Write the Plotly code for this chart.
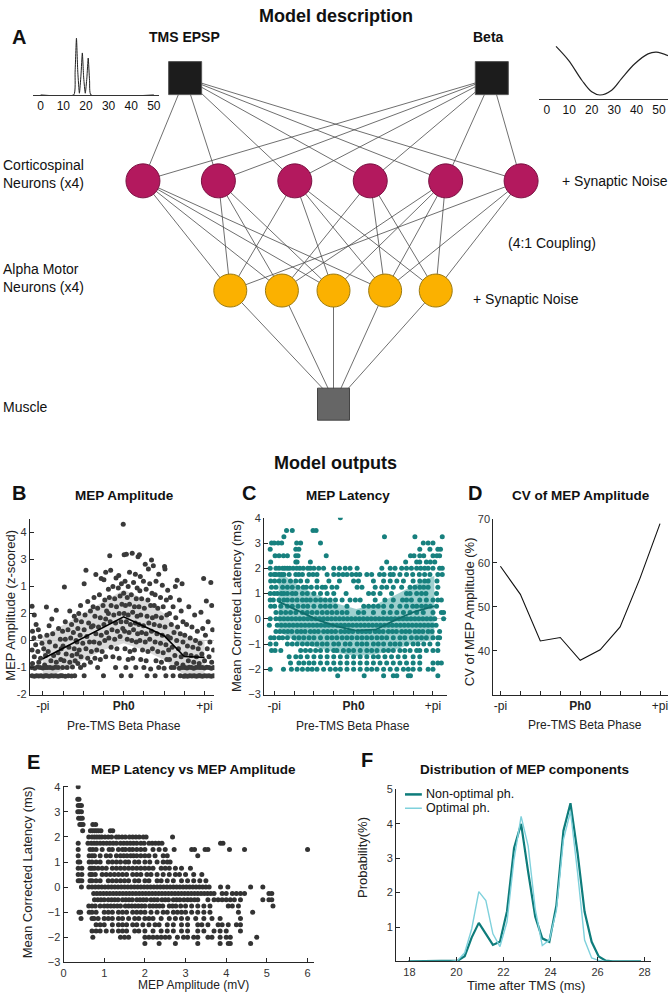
import plotly.graph_objects as go

# ======================= DATA =======================
# Inset waveforms (panel A)
EPSP_T = [0, 14.6, 15.2, 15.8, 16.4, 17.1, 17.8, 18.4, 19.0, 19.7, 20.4, 21.0, 21.6, 22.2, 50]
EPSP_V = [0, 0, 0.4, 1.0, 0.4, 0.03, 0.35, 0.74, 0.3, 0.03, 0.3, 0.65, 0.25, 0, 0]
BETA_T = [4.1, 9.7, 15.6, 20, 23.7, 28.9, 33.3, 39.2, 45.1, 48.8, 54]
BETA_V = [1.01, 0.43, -0.39, -0.87, -1.0, -0.8, -0.32, 0.29, 0.7, 0.77, 0.63]
INSET_TICKS = [0, 10, 20, 30, 40, 50]

PHASE_TICKS = [-180, 0, 180]
PHASE_LABELS = ["-pi", "<b>Ph0</b>", "+pi"]

# Panel B : MEP amplitude (z-scored) vs phase (deg)
B_PTS = [
 (-204,1.27),(-199,0.95),(-195,0.6),(-203,0.35),(-190,0.4),(-200,0.1),(-186,0.15),(-196,-0.15),(-182,-0.1),(-204,-0.35),
 (-191,-0.4),(-178,-0.3),(-199,-0.6),(-185,-0.65),(-174,-0.55),(-203,-0.85),(-189,-0.8),(-176,-0.9),(-205,-1.0),(-198,-1.02),
 (-192,-0.98),(-186,-1.0),(-180,-1.01),(-174,-1.0),(-204,-1.3),(-199,-1.32),(-194,-1.3),(-189,-1.31),(-184,-1.3),(-179,-1.32),
 (-175,-1.3),(-172,1.24),
 (-160,0.8),(-150,1.12),(-166,0.55),(-145,0.45),(-171,0.2),(-158,0.25),(-141,0.05),(-165,-0.05),(-152,-0.2),(-139,-0.3),
 (-168,-0.4),(-156,-0.55),(-146,-0.45),(-162,-0.75),(-150,-0.8),(-140,-0.7),(-170,-1.0),(-164,-1.0),(-158,-1.01),(-152,-0.99),
 (-146,-1.0),(-171,-1.3),(-166,-1.32),(-161,-1.3),(-156,-1.31),(-151,-1.3),(-146,-1.32),(-141,-1.3),
 (-132,1.98),(-120,1.1),(-110,0.9),(-130,0.7),(-116,0.6),(-106,0.75),(-136,0.35),(-124,0.4),(-112,0.3),(-130,0.05),
 (-118,0.1),(-106,0.0),(-135,-0.2),(-122,-0.25),(-110,-0.3),(-128,-0.5),(-115,-0.55),(-104,-0.5),(-133,-0.75),(-120,-0.8),
 (-108,-0.75),(-136,-1.0),(-126,-1.0),(-114,-0.98),(-137,-1.3),(-130,-1.32),(-123,-1.3),(-116,-1.31),(-109,-1.3),
 (-84,2.6),(-88,2.1),(-96,1.3),(-80,1.45),(-100,1.0),(-86,0.95),(-74,1.1),(-94,0.7),(-78,0.65),(-102,0.45),
 (-88,0.4),(-72,0.5),(-97,0.2),(-82,0.15),(-104,-0.05),(-91,-0.1),(-76,-0.05),(-99,-0.35),(-84,-0.3),(-72,-0.4),
 (-95,-0.6),(-80,-0.65),(-102,-0.85),(-88,-0.9),(-74,-0.8),(-96,-1.0),(-88,-1.3),
 (-44,2.25),(-40,2.53),(-62,2.45),(-50,2.3),(-66,1.6),(-54,1.7),(-42,1.5),(-68,1.25),(-58,1.2),(-46,1.3),
 (-38,1.1),(-64,0.9),(-52,0.85),(-40,0.8),(-68,0.55),(-56,0.5),(-44,0.6),(-62,0.25),(-50,0.2),(-38,0.3),
 (-66,-0.05),(-54,-0.1),(-42,0.0),(-60,-0.35),(-48,-0.4),(-64,-0.65),(-52,-0.7),(-40,-0.6),(-58,-1.0),(-45,-1.3),
 (-31,3.14),(-17,2.32),(-11,2.41),(-29,2.6),(-34,1.9),(-24,2.0),(-12,1.95),(-5,2.1),(-32,1.6),(-20,1.55),
 (-8,1.65),(-28,1.3),(-16,1.25),(-4,1.35),(-34,1.0),(-22,0.95),(-10,1.0),(-30,0.7),(-18,0.65),(-6,0.7),
 (-26,0.4),(-14,0.35),(-2,0.45),(-33,0.1),(-20,0.05),(-8,0.15),(-28,-0.25),(-15,-0.3),(-24,-0.6),(-10,-0.65),
 (-18,-1.0),(-5,-1.3),
 (-1,4.31),(1,3.18),(6,3.2),(19,3.23),(13,2.53),(26,2.46),(3,2.2),(10,2.0),(22,2.15),(30,1.95),
 (0,1.75),(8,1.6),(17,1.7),(28,1.55),(4,1.3),(13,1.35),(24,1.25),(1,1.0),(10,0.95),(20,1.05),
 (30,0.9),(6,0.7),(15,0.6),(26,0.65),(2,0.35),(12,0.3),(22,0.4),(31,0.25),(8,0.05),(18,0.0),
 (28,-0.05),(3,-0.3),(14,-0.4),(24,-0.35),(10,-0.7),(20,-0.65),(5,-1.0),(27,-1.0),(16,-1.3),
 (35,3.18),(32,3.1),(62,2.98),(48,2.83),(55,2.65),(66,2.77),(37,2.37),(44,2.2),(58,2.1),(36,1.85),
 (50,1.9),(63,1.75),(40,1.55),(54,1.5),(34,1.25),(46,1.2),(60,1.3),(38,0.95),(52,0.9),(64,0.85),
 (34,0.6),(44,0.55),(56,0.65),(40,0.3),(50,0.25),(62,0.35),(36,0.0),(48,-0.05),(58,0.05),(42,-0.35),
 (54,-0.4),(64,-0.3),(38,-0.7),(50,-0.75),(45,-1.0),(60,-1.05),(52,-1.3),
 (78,2.46),(91,2.74),(92,2.65),(72,2.2),(86,2.05),(98,1.86),(70,1.7),(82,1.6),(95,1.5),(68,1.3),
 (76,1.2),(88,1.25),(72,0.9),(84,0.85),(96,0.95),(68,0.6),(80,0.55),(92,0.5),(74,0.25),(86,0.2),
 (98,0.15),(70,-0.05),(82,-0.1),(94,-0.15),(76,-0.4),(88,-0.45),(100,-0.35),(72,-0.75),(84,-0.8),(96,-0.7),
 (78,-1.0),(90,-1.02),(70,-1.3),(94,-1.3),
 (119,2.23),(130,2.1),(115,2.0),(104,1.6),(124,1.5),(110,1.25),(128,1.1),(102,1.0),(116,0.85),(132,0.7),
 (106,0.6),(120,0.5),(112,0.3),(126,0.25),(104,0.1),(118,0.0),(132,-0.05),(108,-0.25),(122,-0.3),(114,-0.55),
 (128,-0.6),(102,-0.7),(118,-0.85),(132,-0.9),(106,-1.0),(112,-1.0),(124,-1.02),(130,-1.0),(110,-1.3),(126,-1.3),
 (134,-1.32),
 (145,1.25),(158,0.95),(140,0.6),(152,0.5),(164,0.35),(136,0.2),(148,0.1),(160,0.0),(142,-0.2),(154,-0.25),
 (166,-0.3),(138,-0.5),(150,-0.55),(162,-0.6),(144,-0.75),(156,-0.8),(168,-0.85),(136,-1.0),(141,-1.01),(146,-0.99),
 (151,-1.0),(156,-1.02),(161,-1.0),(166,-0.99),(137,-1.3),(142,-1.32),(147,-1.3),(152,-1.31),(157,-1.3),(162,-1.32),
 (167,-1.3),
 (178,2.3),(194,2.15),(184,1.47),(172,1.05),(196,1.3),(188,0.7),(176,0.45),(198,0.4),(182,0.2),(192,-0.05),
 (170,-0.1),(186,-0.3),(200,-0.35),(174,-0.5),(190,-0.6),(180,-0.75),(196,-0.8),(170,-1.0),(175,-1.0),(180,-1.01),
 (185,-0.99),(190,-1.0),(195,-1.02),(200,-1.0),(170,-1.3),(175,-1.32),(180,-1.3),(185,-1.31),(190,-1.3),(195,-1.32),
 (200,-1.3),
]
B_BINS = [-180, -135, -90, -45, 0, 45, 90, 135, 180]
B_MEAN = [-0.67, -0.29, 0.09, 0.49, 0.88, 0.53, 0.18, -0.59, -0.62]
B_UPPER = [0.14, 0.57, 1.0, 1.43, 1.88, 1.55, 1.0, 0.14, 0.02]
B_LOWER = [-1.45, -1.08, -0.72, -0.35, -0.1, -0.35, -0.72, -1.27, -1.33]
B_YTICKS = [-2, -1, 0, 1, 2, 3, 4]
B_YLABELS = ["-2", "-1", "0", "2", "1", "3", "4"]

# Panel C : corrected latency (ms) rows -> phases (deg)
C_ROWS = {
 4.0: [-30],
 3.5: [-152, -139, -92, -85],
 3.25: [-158, 70, 139, 201],
 3.0: [-186, -180, -171, -163, -129, -120, -75, 158, 169, 180],
 2.75: [-189, -131, -124, 150, 173, 191, 197],
 2.5: [-178, -169, -159, -150, -131, -126, -62, 129, 137, 150, 159, 180, 189, 195],
 2.25: [-188, -131, -128, -98, 75, 118, 143, 150, 165, 174, 184],
 2.0: [-189, -176, -169, -161, -156, -150, -145, -137, -129, -122, -114, -104, -98, -90, -79, -68, -45, -32, -19, -8,
       8, 64, 83, 94, 109, 120, 131, 143, 152, 161, 169, 180, 195, 201],
 1.75: [-188, -180, -176, -169, -163, -158, -146, -131, -124, -116, -101, -92, -83, -60, -45, -34, -24, -15, -4, 6,
        14, 30, 41, 59, 69, 83, 90, 105, 120, 134, 149, 161, 173, 191, 201],
 1.5: [-188, -179, -169, -158, -143, -131, -120, -105, -83, -56, -32, 0, 11, 45, 68, 83, 98, 113, 135, 150, 161, 169, 189],
 1.25: [-186, -176, -161, -150, -139, -126, -114, -107, -96, -83, -71, -64, -49, -38, 8, 19, 49, 64, 75, 90, 109, 128,
        139, 150, 159, 169, 191],
 1.0: [-189, -180, -173, -164, -158, -150, -139, -131, -116, -105, -90, -75, -60, -45, -17, 34, 45, 60, 86, 120, 128,
       143, 154, 164, 188],
 0.75: [-189, -182, -169, -158, -150, -139, -128, -116, -107, -98, -86, -75, -64, -53, -41, -26, -8, 4, 15, 49, 71, 90,
        111, 120, 131, 150, 165, 180, 191, 199],
 0.5: [-188, -179, -165, -150, -139, -126, -114, -104, -90, -75, -64, -53, -41, -15, 23, 34, 45, 56, 68, 86, 105, 120,
       134, 143, 154, 164, 174, 188],
 0.25: [-176, -165, -154, -143, -131, -116, -105, -94, -83, -71, -60, -49, -38, -26, -15, 11, 23, 45, 68, 83, 98, 113,
        128, 143, 158, 180, 199, 204],
 0.0: [-189, -176, -167, -158, -149, -140, -131, -122, -113, -104, -95, -86, -77, -68, -59, -50, -41, -32, -23, -14, -5,
       4, 13, 22, 31, 40, 49, 58, 67, 76, 85, 94, 103, 112, 121, 130, 139, 148, 157, 166, 175, 184, 204],
 -0.25: [-191, -173, -164, -155, -146, -137, -128, -119, -110, -101, -92, -83, -74, -65, -56, -47, -38, -29, -20, -11,
         -2, 7, 16, 25, 34, 43, 52, 61, 70, 79, 88, 97, 106, 115, 124, 133, 142, 151, 160, 169, 178, 187],
 -0.5: [-176, -167, -158, -149, -140, -128, -119, -110, -98, -89, -80, -68, -59, -50, -41, -29, -20, -11, -2, 10, 19, 28,
        37, 49, 58, 67, 79, 88, 97, 109, 118, 127, 139, 148, 157, 169, 178, 195],
 -0.75: [-188, -180, -169, -161, -150, -135, -124, -113, -101, -90, -75, -60, -49, -38, -26, -15, -4, 8, 19, 30, 41, 53,
         64, 75, 90, 105, 116, 131, 143, 154, 165, 180, 191, 195],
 -1.0: [-189, -176, -150, -139, -128, -116, -105, -94, -83, -71, -60, -45, -34, -19, -8, 8, 19, 30, 45, 56, 68, 83, 94,
        105, 120, 135, 146, 159, 173, 191],
 -1.25: [-186, -178, -165, -120, -109, -98, -86, -75, -60, -45, -38, -23, -11, 0, 15, 30, 41, 53, 68, 79, 90, 105, 116,
         128, 143, 150, 165, 180, 191],
 -1.5: [-146, -131, -120, -105, -90, -75, -60, -45, -30, -15, 0, 15, 30, 45, 56, 71, 86, 101, 116, 135, 150],
 -1.75: [-143, -124, -113, -101, -90, -75, -60, -45, -30, -15, 0, 15, 30, 45, 60, 75, 90, 105, 120, 135, 150, 180, 191, 199],
 -2.0: [-189, -159, -141, -128, -116, -104, -94, -83, -68, -53, -41, -30, -15, 0, 15, 30, 41, 53, 68, 83, 98, 113, 124,
        135, 150, 169, 180],
 -2.25: [-36, 24, 68, 90, 98, 124, 129, 191],
}
C_BINS = [-170, -126, -82, -38, 6, 50, 95, 139, 183]
C_MEAN = [0.68, 0.31, -0.04, -0.3, -0.47, -0.43, -0.04, 0.29, 0.5]
C_UPPER = [1.87, 1.32, 0.94, 0.61, 0.39, 0.57, 0.94, 1.35, 1.71]
C_LOWER = [-0.49, -0.95, -1.14, -1.34, -1.47, -1.4, -1.21, -0.95, -0.84]

# Panel D : CV of MEP amplitude (%)
D_PHASE = [-180, -135, -90, -45, 0, 45, 90, 135, 180]
D_CV = [59.2, 52.8, 42.2, 43.0, 37.8, 40.2, 45.4, 56.5, 68.9]

# Panel E : latency rows -> MEP amplitude (mV)
E_ROWS = {
 4.0: [0.36],
 3.5: [0.35, 0.38],
 3.25: [0.36, 0.4, 0.44],
 3.0: [0.35, 0.39, 0.44],
 2.75: [0.37, 0.42, 0.46],
 2.5: [0.4, 0.44, 0.48, 0.72, 0.79],
 2.25: [0.47, 0.66, 0.71, 0.76, 0.81, 0.86, 0.92, 1.15, 1.21],
 2.0: [0.62, 0.7, 0.76, 0.82, 0.88, 0.94, 1.02, 1.1, 1.18, 1.3, 1.36, 1.44, 1.52, 1.62, 1.7, 1.78, 1.86, 1.96, 2.03, 2.68],
 1.75: [0.36, 0.6, 0.68, 0.75, 0.82, 0.9, 0.98, 1.06, 1.14, 1.22, 1.3, 1.4, 1.48, 1.56, 1.64, 1.72, 1.8, 1.9, 1.98,
        2.1, 2.18, 2.26, 2.34, 2.42, 3.86, 3.92],
 1.5: [0.36, 0.65, 0.72, 0.8, 0.95, 1.12, 1.2, 1.35, 1.45, 1.52, 1.62, 1.7, 1.8, 1.9, 2.0, 2.2, 2.35, 2.5, 2.72, 3.15,
       3.22, 3.48, 3.55, 4.08, 4.45, 6.0],
 1.25: [0.36, 0.63, 0.7, 0.76, 0.9, 1.05, 1.15, 1.3, 1.4, 1.48, 1.56, 1.65, 1.72, 1.8, 1.9, 2.0, 2.1, 2.25, 2.45, 2.55, 3.3],
 1.0: [0.36, 0.4, 0.63, 0.7, 0.8, 0.9, 1.1, 1.2, 1.3, 1.4, 1.52, 1.6, 1.75, 1.85, 2.0, 2.12, 2.3, 2.45, 2.55, 2.62],
 0.75: [0.36, 0.45, 0.65, 0.7, 0.76, 0.85, 0.95, 1.05, 1.2, 1.3, 1.4, 1.5, 1.6, 1.7, 1.8, 1.9, 2.0, 2.1, 2.2, 2.4, 2.5,
        2.6, 2.75, 2.9, 3.12],
 0.5: [0.36, 0.45, 0.65, 0.7, 0.78, 0.95, 1.05, 1.15, 1.25, 1.35, 1.45, 1.55, 1.7, 1.8, 1.9, 2.05, 2.15, 2.3, 2.45, 2.6,
       2.75, 2.85, 3.0, 3.2, 3.4],
 0.25: [0.36, 0.4, 0.45, 0.65, 0.7, 0.8, 0.9, 1.1, 1.2, 1.3, 1.4, 1.5, 1.6, 1.75, 1.85, 2.0, 2.1, 2.3, 2.4, 2.55, 2.7,
        2.9, 3.05, 3.2, 3.35, 3.5],
 0.0: [0.44, 0.62, 0.7, 0.78, 0.86, 0.94, 1.02, 1.1, 1.18, 1.26, 1.34, 1.42, 1.5, 1.58, 1.66, 1.74, 1.82, 1.9, 1.98,
       2.06, 2.14, 2.22, 2.3, 2.38, 2.46, 2.54, 2.62, 2.7, 2.78, 2.86, 2.94, 3.02, 3.1, 3.18, 3.26, 3.34, 3.42, 3.5,
       3.58, 3.86, 4.04, 4.6, 4.9],
 -0.25: [0.74, 0.82, 0.9, 0.98, 1.06, 1.14, 1.22, 1.3, 1.38, 1.46, 1.54, 1.62, 1.7, 1.78, 1.86, 1.94, 2.02, 2.1, 2.18,
         2.26, 2.34, 2.42, 2.5, 2.58, 2.66, 2.74, 2.82, 2.9, 2.98, 3.06, 3.14, 3.22, 3.3, 3.38, 3.46, 3.54, 3.62, 3.7,
         3.9, 4.0, 4.15, 4.25, 4.35, 4.45, 5.05, 5.12],
 -0.5: [0.76, 0.84, 0.92, 1.0, 1.1, 1.18, 1.26, 1.34, 1.45, 1.53, 1.61, 1.69, 1.8, 1.88, 1.96, 2.04, 2.15, 2.23, 2.31,
        2.42, 2.5, 2.58, 2.7, 2.78, 2.86, 2.96, 3.05, 3.13, 3.22, 3.3, 3.55, 3.7, 3.8, 3.9, 4.0, 4.1, 4.2, 4.35, 4.9,
        5.05, 5.12],
 -0.75: [0.62, 0.7, 0.78, 0.9, 1.0, 1.08, 1.16, 1.24, 1.32, 1.4, 1.52, 1.6, 1.68, 1.76, 1.84, 1.92, 2.0, 2.12, 2.2,
         2.28, 2.36, 2.44, 2.6, 2.68, 2.76, 2.88, 3.0, 3.15, 3.3, 3.45, 3.6, 4.05, 4.15, 4.3, 5.15],
 -1.0: [0.38, 0.42, 0.63, 0.7, 0.8, 1.0, 1.1, 1.2, 1.35, 1.45, 1.55, 1.7, 1.8, 1.9, 2.0, 2.15, 2.3, 2.45, 2.55, 2.7,
        2.8, 2.9, 3.0, 3.15, 3.3, 3.45, 3.6, 4.3, 4.65],
 -1.25: [0.43, 0.7, 0.75, 0.85, 1.0, 1.1, 1.2, 1.35, 1.45, 1.6, 1.75, 1.85, 2.0, 2.1, 2.2, 2.4, 2.6, 2.75, 2.9, 3.05,
         3.25, 3.45, 3.65, 3.85, 4.35],
 -1.5: [0.8, 0.9, 1.0, 1.2, 1.35, 1.45, 1.55, 1.7, 1.8, 1.95, 2.1, 2.25, 2.35, 2.55, 2.7, 2.9, 3.05, 3.3, 3.4, 3.55,
        3.8, 3.9, 4.05, 4.25, 4.35],
 -1.75: [0.7, 0.8, 0.9, 1.05, 1.2, 1.35, 1.45, 1.55, 1.75, 1.85, 2.0, 2.2, 2.4, 2.55, 2.7, 2.9, 3.05, 3.3, 3.45, 3.7,
         3.85, 4.0, 4.35],
 -2.0: [0.72, 1.4, 1.5, 1.6, 2.0, 2.1, 2.2, 2.3, 2.4, 2.5, 2.6, 2.8, 2.95, 3.05, 3.2, 3.3, 3.55, 3.65, 3.85, 4.0, 4.1, 4.75],
 -2.25: [2.0, 2.35, 2.75, 3.3, 3.85, 4.05, 4.1, 4.6],
}

# Panel F : distribution of MEP components
F_TIME = [17.95, 18.25, 18.55, 18.85, 19.15, 19.45, 19.75, 20.05, 20.35, 20.65, 20.95, 21.25, 21.55, 21.85,
          22.15, 22.45, 22.75, 23.05, 23.35, 23.65, 23.95, 24.25, 24.55, 24.85, 25.15, 25.45, 25.75, 26.05,
          26.35, 26.65, 26.95, 27.25, 27.55, 27.85]
F_NONOPT = [0, 0, 0, 0, 0, 0, 0, 0.02, 0.15, 0.7, 1.12, 0.78, 0.48, 0.57, 1.46, 3.3, 4.0, 2.6, 1.3, 0.67,
            0.57, 1.63, 3.8, 4.6, 3.16, 1.44, 0.57, 0.14, 0.02, 0, 0, 0, 0, 0]
F_OPT = [0, 0, 0, 0, 0, 0, 0, 0.03, 0.25, 0.95, 2.03, 1.77, 0.8, 0.43, 1.15, 2.97, 4.22, 3.35, 1.53, 0.46,
         0.62, 1.48, 3.54, 4.36, 2.59, 0.62, 0.1, 0.03, 0, 0, 0, 0, 0, 0]
F_SERIES = ["Non-optimal ph.", "Optimal ph."]

# ======================= LAYOUT HELPERS =======================
W, H = 670, 999
FONT = "Liberation Sans, Arial, sans-serif"
AX = "#262626"


def fx(p):
    return p / W


def fy(p):
    return 1 - p / H


# network layout (pixel positions of nodes, style only)
CS_X = [141, 217, 294, 370, 446, 522]
CS_Y = 177
AM_X = [229, 281, 333, 385, 436]
AM_Y = 288
TMS_XY = (183.5, 73)
BETA_XY = (492.5, 73)
MUS_XY = (333, 403)
CS_TO_AM = {0: [0, 1, 2, 3], 1: [0, 1, 2], 2: [0, 2, 3, 4], 3: [1, 3, 4], 4: [1, 2, 3, 4], 5: [0, 3, 4]}
AM_TO_MUS_X = [323, 328, 333, 340, 347]

fig = go.Figure()

# ---------------- network (panel A) ----------------
ex, ey = [], []
for src in (TMS_XY, BETA_XY):
    for cx in CS_X:
        ex += [src[0], cx, None]
        ey += [src[1], CS_Y, None]
for i, targets in CS_TO_AM.items():
    for j in targets:
        ex += [CS_X[i], AM_X[j], None]
        ey += [CS_Y, AM_Y, None]
for j, mx in enumerate(AM_TO_MUS_X):
    ex += [AM_X[j], mx, None]
    ey += [AM_Y, MUS_XY[1] - 15, None]
fig.add_trace(go.Scatter(x=ex, y=ey, mode="lines", line=dict(color="#4a4a4a", width=0.8),
                         xaxis="x6", yaxis="y6", hoverinfo="skip", showlegend=False))
fig.add_trace(go.Scatter(x=[TMS_XY[0], BETA_XY[0]], y=[TMS_XY[1], BETA_XY[1]], mode="markers",
                         marker=dict(symbol="square", size=33, color="#1c1c1c", line=dict(color="#555", width=1)),
                         xaxis="x6", yaxis="y6", showlegend=False))
fig.add_trace(go.Scatter(x=CS_X, y=[CS_Y] * len(CS_X), mode="markers",
                         marker=dict(symbol="circle", size=34, color="#b3195e", line=dict(color="#7a1142", width=1)),
                         xaxis="x6", yaxis="y6", showlegend=False))
fig.add_trace(go.Scatter(x=AM_X, y=[AM_Y] * len(AM_X), mode="markers",
                         marker=dict(symbol="circle", size=33, color="#fbb100", line=dict(color="#9c7a10", width=1)),
                         xaxis="x6", yaxis="y6", showlegend=False))
fig.add_trace(go.Scatter(x=[MUS_XY[0]], y=[MUS_XY[1]], mode="markers",
                         marker=dict(symbol="square", size=32, color="#666666", line=dict(color="#444", width=1)),
                         xaxis="x6", yaxis="y6", showlegend=False))

# insets
fig.add_trace(go.Scatter(x=EPSP_T, y=EPSP_V, mode="lines", line=dict(color="#222", width=1, shape="spline", smoothing=0.5),
                         xaxis="x7", yaxis="y7", showlegend=False))
fig.add_trace(go.Scatter(x=BETA_T, y=BETA_V, mode="lines", line=dict(color="#222", width=1.2, shape="spline"),
                         xaxis="x8", yaxis="y8", showlegend=False))

# ---------------- panel B ----------------
fig.add_trace(go.Scatter(x=B_BINS + B_BINS[::-1], y=B_UPPER + B_LOWER[::-1], fill="toself",
                         fillcolor="rgba(205,205,205,0.75)", line=dict(width=0), mode="lines",
                         xaxis="x", yaxis="y", hoverinfo="skip", showlegend=False))
fig.add_trace(go.Scatter(x=[p[0] for p in B_PTS], y=[p[1] for p in B_PTS], mode="markers",
                         marker=dict(size=5, color="#3a3a3a"), xaxis="x", yaxis="y", showlegend=False))
fig.add_trace(go.Scatter(x=B_BINS, y=B_MEAN, mode="lines", line=dict(color="#000", width=1.6),
                         xaxis="x", yaxis="y", showlegend=False))

# ---------------- panel C ----------------
cx_, cy_ = [], []
for lat, phases in C_ROWS.items():
    cx_ += phases
    cy_ += [lat] * len(phases)
fig.add_trace(go.Scatter(x=C_BINS + C_BINS[::-1], y=C_UPPER + C_LOWER[::-1], fill="toself",
                         fillcolor="rgba(80,170,167,0.55)", line=dict(width=0), mode="lines",
                         xaxis="x2", yaxis="y2", hoverinfo="skip", showlegend=False))
fig.add_trace(go.Scatter(x=cx_, y=cy_, mode="markers", marker=dict(size=5, color="#17807e"),
                         xaxis="x2", yaxis="y2", showlegend=False))
fig.add_trace(go.Scatter(x=C_BINS, y=C_MEAN, mode="lines", line=dict(color="#0f6e6c", width=1.8),
                         xaxis="x2", yaxis="y2", showlegend=False))

# ---------------- panel D ----------------
fig.add_trace(go.Scatter(x=D_PHASE, y=D_CV, mode="lines", line=dict(color="#111", width=1.1),
                         xaxis="x3", yaxis="y3", showlegend=False))

# ---------------- panel E ----------------
exs, eys = [], []
for lat, amps in E_ROWS.items():
    exs += amps
    eys += [lat] * len(amps)
fig.add_trace(go.Scatter(x=exs, y=eys, mode="markers", marker=dict(size=5, color="#333333"),
                         xaxis="x4", yaxis="y4", showlegend=False))

# ---------------- panel F ----------------
fig.add_trace(go.Scatter(x=F_TIME, y=F_NONOPT, mode="lines", name=F_SERIES[0],
                         line=dict(color="#0e7c7b", width=2.2), xaxis="x5", yaxis="y5", showlegend=False))
fig.add_trace(go.Scatter(x=F_TIME, y=F_OPT, mode="lines", name=F_SERIES[1],
                         line=dict(color="#7fd1dc", width=1.4), xaxis="x5", yaxis="y5", showlegend=False))


def axis(domain, rng, anchor, **kw):
    d = dict(domain=domain, range=rng, anchor=anchor, showline=True, linecolor=AX, linewidth=1,
             ticks="inside", ticklen=4, tickcolor=AX, showgrid=False, zeroline=False,
             tickfont=dict(family=FONT, size=11, color="#333"))
    d.update(kw)
    return d


phase_x = dict(tickmode="array", tickvals=PHASE_TICKS, ticktext=PHASE_LABELS,
               tickfont=dict(family=FONT, size=12, color="#222"),
               minor=dict(tick0=0, dtick=45, ticks="inside", ticklen=4, tickcolor=AX))

layout = dict(
    width=W, height=H, margin=dict(l=0, r=0, t=0, b=0), paper_bgcolor="white", plot_bgcolor="rgba(0,0,0,0)",
    font=dict(family=FONT, color="#111"), showlegend=False,
    xaxis=axis([fx(27), fx(213)], [-209, 202], "y", **phase_x),
    yaxis=axis([fy(697), fy(519)], [-2, 4.51], "x", tickmode="array", tickvals=B_YTICKS, ticktext=B_YLABELS,
               zeroline=True, zerolinecolor="#c6c6c6", zerolinewidth=1),
    xaxis2=axis([fx(263), fx(447)], [-203, 211], "y2", **phase_x),
    yaxis2=axis([fy(697), fy(518)], [-3, 4], "x2", dtick=1, zeroline=True, zerolinecolor="#c6c6c6", zerolinewidth=1),
    xaxis3=axis([fx(494), fx(670)], [-196, 198], "y3", **phase_x),
    yaxis3=axis([fy(697), fy(519)], [30, 70], "x3", tickvals=[40, 50, 60, 70]),
    xaxis4=axis([fx(61), fx(313)], [0, 6.15], "y4", dtick=1),
    yaxis4=axis([fy(968), fy(789)], [-3, 4.05], "x4", dtick=1),
    xaxis5=axis([fx(396), fx(653)], [17.43, 28.28], "y5", tickvals=[18, 20, 22, 24, 26, 28]),
    yaxis5=axis([fy(967), fy(793)], [0, 5], "x5", tickvals=[1, 2, 3, 4, 5]),
    xaxis6=dict(domain=[0, 1], range=[0, W], anchor="y6", visible=False),
    yaxis6=dict(domain=[fy(445), 1], range=[445, 0], anchor="x6", visible=False),
    xaxis7=dict(domain=[fx(30), fx(157)], range=[-3.5, 52.2], anchor="y7", showline=True, linecolor="#333",
                linewidth=1, ticks="", showgrid=False, zeroline=False, tickvals=INSET_TICKS,
                tickfont=dict(family=FONT, size=12, color="#111")),
    yaxis7=dict(domain=[fy(90), fy(28)], range=[0, 1.08], anchor="x7", visible=False),
    xaxis8=dict(domain=[fx(540), 1], range=[-3.5, 54], anchor="y8", showline=True, linecolor="#333",
                linewidth=1, ticks="", showgrid=False, zeroline=False, tickvals=INSET_TICKS,
                tickfont=dict(family=FONT, size=12, color="#111")),
    yaxis8=dict(domain=[fy(94), fy(35)], range=[-1.16, 1.25], anchor="x8", visible=False),
)

ann = []


def text(x, y, s, size=13, bold=False, xanchor="center", angle=0, color="#111"):
    ann.append(dict(x=fx(x), y=fy(y), xref="paper", yref="paper", text=f"<b>{s}</b>" if bold else s,
                    showarrow=False, xanchor=xanchor, yanchor="middle", textangle=angle, borderpad=0,
                    font=dict(family=FONT, size=size, color=color)))


text(335, 10, "Model description", 18, True)
text(16, 31, "A", 20, True)
text(182.5, 31, "TMS EPSP", 14, True)
text(489.5, 31, "Beta", 14, True)
text(-1, 161, "Corticospinal", 14, xanchor="left")
text(-1, 179, "Neurons (x4)", 14, xanchor="left")
text(-1, 266, "Alpha Motor", 14, xanchor="left")
text(-1, 284, "Neurons (x4)", 14, xanchor="left")
text(-1, 406, "Muscle", 14, xanchor="left")
text(562, 177, "+ Synaptic Noise", 14, xanchor="left")
text(508, 240, "(4:1 Coupling)", 14, xanchor="left")
text(473, 297, "+ Synaptic Noise", 14, xanchor="left")
text(335, 463, "Model outputs", 18, True)

text(16, 493, "B", 20, True)
text(248, 493, "C", 20, True)
text(476, 493, "D", 20, True)
text(31, 765, "E", 20, True)
text(367, 763, "F", 20, True)

text(122, 495, "MEP Amplitude", 13.5, True)
text(348, 495, "MEP Latency", 13.5, True)
text(582, 495, "CV of MEP Amplitude", 13.5, True)
text(192, 773, "MEP Latency vs MEP Amplitude", 13.5, True)
text(525, 773, "Distribution of MEP components", 13.5, True)

text(8, 606, "MEP Amplitude (z-scored)", 13, angle=-90, color="#222")
text(235, 607, "Mean Corrected Latency (ms)", 13, angle=-90, color="#222")
text(470, 613, "CV of MEP Amplitude (%)", 13, angle=-90, color="#222")
text(25, 877, "Mean Corrected Latency (ms)", 13, angle=-90, color="#222")
text(362, 862, "Probability(%)", 13, angle=-90, color="#222")

text(122, 729, "Pre-TMS Beta Phase", 12, color="#222")
text(353, 729, "Pre-TMS Beta Phase", 12, color="#222")
text(586, 728, "Pre-TMS Beta Phase", 12, color="#222")
text(192, 991, "MEP Amplitude (mV)", 12, color="#222")
text(527, 991, "Time after TMS (ms)", 13, color="#222")

# legend of panel F
text(425, 798, F_SERIES[0], 12.5, xanchor="left")
text(425, 812, F_SERIES[1], 12.5, xanchor="left")
shapes = [
    dict(type="line", xref="paper", yref="paper", x0=fx(405), x1=fx(422), y0=fy(798), y1=fy(798),
         line=dict(color="#0e7c7b", width=2.5)),
    dict(type="line", xref="paper", yref="paper", x0=fx(405), x1=fx(422), y0=fy(812), y1=fy(812),
         line=dict(color="#7fd1dc", width=1.5)),
]

layout["annotations"] = ann
layout["shapes"] = shapes
fig.update_layout(**layout)
fig.write_html("out.html", config={"displayModeBar": False},
               post_script="document.body.style.margin='0px';document.body.style.overflow='hidden';")
